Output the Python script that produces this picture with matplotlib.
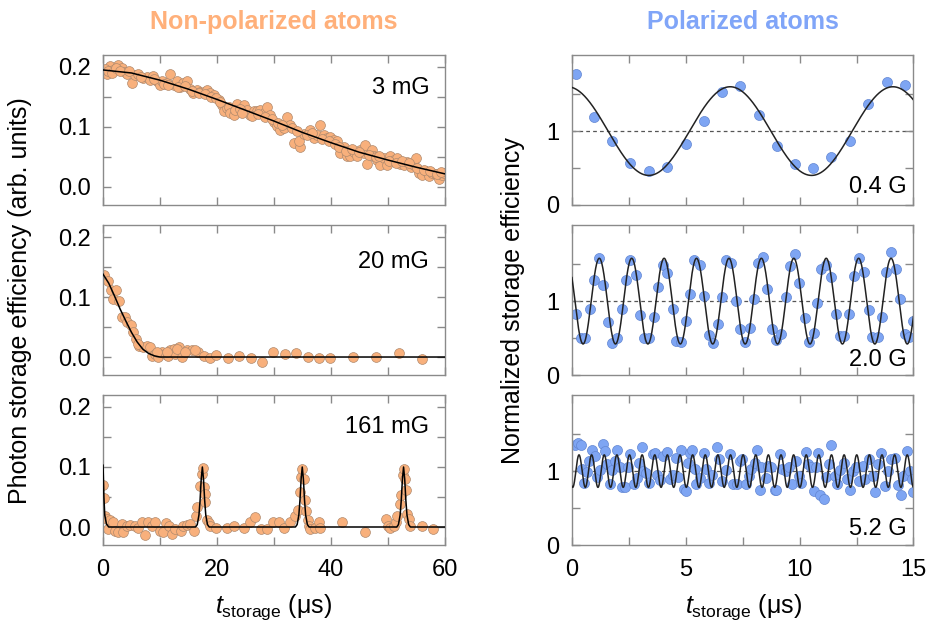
import numpy as np
import matplotlib
matplotlib.use("Agg")
import matplotlib.pyplot as plt
from matplotlib.ticker import MultipleLocator, FixedLocator

plt.rcParams["font.family"] = ["Liberation Sans", "DejaVu Sans"]
plt.rcParams["mathtext.fontset"] = "custom"
plt.rcParams["mathtext.rm"] = "Liberation Sans"
plt.rcParams["mathtext.it"] = "Liberation Sans:italic"

# ---------------------------------------------------------------------------
# Non-polarized atoms (left column): photon storage efficiency, arb. units
# ---------------------------------------------------------------------------
t_3mG = [0.0, 0.65, 1.23, 1.82, 2.70, 3.28, 3.87, 4.16, 5.04, 5.63, 6.22, 7.10,
         7.68, 8.27, 8.86, 9.44, 10.03, 10.32, 11.20, 11.79, 12.38, 12.96, 13.55,
         14.13, 14.72, 15.31, 15.89, 16.48, 17.07, 17.65, 18.24, 18.83, 19.41,
         20.29, 20.88, 21.17, 21.76, 22.05, 22.35, 22.93, 23.52, 24.69, 25.28,
         25.87, 26.45, 27.04, 27.62, 28.21, 28.80, 29.38, 29.97, 30.56, 31.14,
         31.73, 32.32, 32.90, 33.49, 34.66, 34.37, 35.25, 36.42, 37.01, 37.60,
         38.18, 38.77, 39.35, 39.94, 40.53, 41.11, 41.70, 42.29, 42.87, 43.46,
         44.05, 44.63, 45.22, 45.81, 46.10, 46.39, 47.27, 47.57, 48.15, 48.74,
         49.33, 49.91, 50.50, 51.09, 51.67, 52.26, 52.85, 53.43, 54.02, 54.60,
         54.90, 55.48, 56.07, 56.66, 57.24, 57.83, 58.42, 59.00, 59.59, 59.88,
         0.3, 0.9, 1.5, 2.2, 3.0, 4.5, 6.6, 9.0, 10.7, 11.5, 13.2, 14.4, 15.6,
         16.8, 18.0, 19.0, 19.8, 20.6, 23.2, 24.1, 24.4, 26.1, 27.3, 28.5, 29.7,
         30.8, 31.5, 33.2, 34.0, 35.8, 36.7, 38.5, 39.7, 40.8, 41.4, 42.6, 43.8,
         44.9, 46.7, 47.9, 48.4, 50.2, 51.4, 52.6, 53.7, 55.2, 56.4, 57.5, 58.7,
         59.3]
eff_3mG = [0.195, 0.188, 0.201, 0.195, 0.203, 0.198, 0.192, 0.189, 0.173, 0.187,
           0.189, 0.181, 0.184, 0.178, 0.185, 0.176, 0.170, 0.176, 0.173, 0.188,
           0.170, 0.176, 0.167, 0.173, 0.177, 0.164, 0.156, 0.162, 0.159, 0.159,
           0.162, 0.156, 0.153, 0.145, 0.137, 0.126, 0.131, 0.134, 0.123, 0.120,
           0.139, 0.137, 0.128, 0.120, 0.126, 0.126, 0.128, 0.123, 0.134, 0.120,
           0.109, 0.101, 0.095, 0.098, 0.117, 0.103, 0.073, 0.067, 0.076, 0.089,
           0.095, 0.081, 0.087, 0.103, 0.087, 0.081, 0.084, 0.078, 0.076, 0.056,
           0.067, 0.051, 0.051, 0.059, 0.051, 0.062, 0.056, 0.070, 0.039, 0.062,
           0.051, 0.045, 0.037, 0.048, 0.037, 0.051, 0.045, 0.048, 0.039, 0.037,
           0.042, 0.034, 0.037, 0.048, 0.023, 0.020, 0.026, 0.018, 0.023, 0.022,
           0.014, 0.020, 0.023,
           0.197, 0.193, 0.190, 0.198, 0.194, 0.193, 0.184, 0.180, 0.172, 0.170,
           0.166, 0.168, 0.160, 0.157, 0.155, 0.150, 0.148, 0.142, 0.128, 0.130,
           0.124, 0.118, 0.121, 0.116, 0.114, 0.107, 0.104, 0.098, 0.094, 0.086,
           0.090, 0.080, 0.076, 0.072, 0.066, 0.060, 0.063, 0.058, 0.054, 0.050,
           0.052, 0.044, 0.040, 0.044, 0.040, 0.031, 0.028, 0.026, 0.021, 0.025]
fit_t_3mG = [0, 5, 10, 15, 20, 25, 30, 35, 40, 45, 50, 55, 60]
fit_3mG = [0.195, 0.190, 0.178, 0.163, 0.146, 0.128, 0.110, 0.091, 0.074,
           0.058, 0.045, 0.033, 0.022]

t_20mG = [0.18, 0.94, 1.35, 2.29, 1.82, 2.87, 3.28, 3.87, 4.16, 4.87, 5.34, 5.81,
          6.39, 7.10, 7.68, 8.27, 8.56, 9.15, 9.74, 10.32, 10.91, 11.50, 11.79,
          12.38, 12.67, 13.26, 13.84, 14.72, 15.60, 16.77, 17.65, 18.71, 19.88,
          21.88, 23.93, 25.98, 27.92, 29.85, 32.02, 33.96, 35.95, 37.95, 39.94,
          43.93, 47.98, 51.96, 56.01, 6.2, 9.44, 11.2, 12.96, 14.4, 16.2]
eff_20mG = [0.136, 0.127, 0.111, 0.111, 0.097, 0.094, 0.066, 0.066, 0.058, 0.053,
            0.041, 0.030, 0.019, 0.016, 0.019, 0.016, 0.002, 0.005, 0.000, 0.008,
            0.005, 0.002, 0.011, 0.013, 0.005, 0.016, 0.000, 0.011, 0.011, 0.009,
            0.002, -0.002, 0.003, -0.002, 0.002, -0.002, -0.008, 0.009, 0.005,
            0.006, 0.000, -0.002, -0.002, 0.000, 0.000, 0.007, -0.004, 0.022,
            0.009, 0.009, 0.013, 0.008, 0.012]
fit_t_20mG = [0, 1, 2, 3, 4, 5, 6, 7, 8, 9, 10, 60]
fit_20mG = [0.138, 0.123, 0.102, 0.080, 0.060, 0.041, 0.025, 0.013, 0.006,
            0.002, 0.0, 0.0]

t_161mG = [0.06, 0.18, 0.35, 0.65, 1.23, 0.94, 1.70, 2.11, 2.70, 3.28, 3.58, 4.16,
           4.75, 5.63, 6.22, 6.80, 7.39, 7.98, 8.56, 9.15, 10.03, 10.50, 11.09,
           11.67, 12.08, 12.67, 13.67, 14.13, 14.72, 15.31, 16.01, 16.36, 16.48,
           17.07, 17.36, 17.54, 17.65, 17.95, 17.95, 18.24, 18.53, 18.83, 19.88,
           21.76, 22.93, 24.81, 25.75, 26.74, 27.74, 28.80, 29.85, 30.85, 31.73,
           32.90, 33.78, 34.19, 34.55, 34.78, 35.02, 35.25, 35.54, 35.72, 35.95,
           36.13, 36.42, 37.30, 37.89, 38.18, 42.00, 46.10, 49.80, 50.03, 50.50,
           51.10, 51.40, 51.67, 52.14, 52.43, 52.73, 52.85, 53.02, 53.26, 53.43,
           53.72, 54.00, 56.07, 58.00]
eff_161mG = [0.070, 0.049, 0.019, 0.014, 0.011, -0.003, 0.008, -0.006, -0.009,
             0.005, -0.008, 0.001, 0.003, 0.002, -0.001, 0.009, -0.013, 0.008,
             0.002, 0.009, -0.006, -0.009, 0.007, 0.002, -0.012, -0.003, -0.006,
             0.002, 0.003, 0.005, -0.006, 0.019, 0.033, 0.068, 0.088, 0.098,
             0.066, 0.055, 0.042, 0.011, 0.007, 0.002, -0.002, -0.002, 0.002,
             -0.002, 0.009, 0.016, -0.003, -0.003, 0.009, 0.009, -0.001, 0.008,
             0.019, 0.029, 0.059, 0.083, 0.096, 0.080, 0.045, 0.026, 0.011,
             0.002, -0.004, -0.001, 0.009, -0.001, 0.009, -0.009, 0.013, 0.002,
             -0.001, 0.002, 0.008, 0.019, 0.038, 0.053, 0.086, 0.097, 0.080,
             0.061, 0.022, 0.013, 0.002, 0.002, -0.004]
fit_t_161mG = [0.0, 0.15, 0.3, 0.6, 1.0,
               16.25, 16.55, 16.85, 17.05, 17.25, 17.45, 17.65, 17.85, 18.05, 18.35, 18.65,
               33.8, 34.1, 34.4, 34.6, 34.8, 35.0, 35.2, 35.4, 35.6, 35.9, 36.2,
               51.6, 51.9, 52.2, 52.4, 52.6, 52.8, 53.0, 53.2, 53.4, 53.7, 54.0,
               60.0]
fit_161mG = [0.103, 0.05, 0.02, 0.005, 0.0,
             0.0, 0.004, 0.02, 0.045, 0.08, 0.1, 0.08, 0.045, 0.02, 0.004, 0.0,
             0.0, 0.004, 0.02, 0.045, 0.08, 0.1, 0.08, 0.045, 0.02, 0.004, 0.0,
             0.0, 0.004, 0.02, 0.045, 0.08, 0.1, 0.08, 0.045, 0.02, 0.004, 0.0,
             0.0]

# ---------------------------------------------------------------------------
# Polarized atoms (right column): normalized storage efficiency
# ---------------------------------------------------------------------------
t_04G = [0.18, 0.96, 1.77, 2.57, 3.38, 4.18, 4.99, 5.79, 6.59, 7.40, 8.20, 8.99,
         9.80, 10.60, 11.40, 12.21, 13.01, 13.82, 14.62]
eff_04G = [1.77, 1.19, 0.87, 0.57, 0.46, 0.52, 0.82, 1.13, 1.53, 1.61, 1.22, 0.80,
           0.55, 0.50, 0.65, 0.86, 1.36, 1.66, 1.62]

t_20G = [0.18, 0.38, 0.57, 0.79, 0.96, 1.20, 1.37, 1.59, 1.78, 1.99, 2.18, 2.37,
         2.57, 2.81, 2.98, 3.16, 3.39, 3.60, 3.79, 3.98, 4.18, 4.42, 4.56, 4.81,
         5.00, 5.20, 5.38, 5.61, 5.79, 6.02, 6.20, 6.42, 6.61, 6.75, 7.00, 7.22,
         7.40, 7.62, 7.81, 8.01, 8.19, 8.39, 8.58, 8.79, 8.98, 9.20, 9.39, 9.59,
         9.80, 9.97, 10.22, 10.41, 10.61, 10.76, 10.96, 11.17, 11.40, 11.58,
         11.78, 11.97, 12.19, 12.41, 12.60, 12.81, 13.04, 13.19, 13.44, 13.63,
         13.80, 14.01, 14.24, 14.39, 14.61, 14.80, 14.97]
eff_20G = [0.82, 0.50, 0.50, 0.89, 1.29, 1.59, 1.22, 0.72, 0.44, 0.50, 0.90, 1.29,
           1.56, 1.35, 0.81, 0.50, 0.50, 0.78, 1.19, 1.49, 1.38, 0.90, 0.46, 0.45,
           0.73, 1.10, 1.55, 1.49, 1.07, 0.54, 0.44, 0.69, 1.05, 1.55, 1.52, 1.00,
           0.62, 0.45, 0.64, 1.03, 1.51, 1.60, 1.16, 0.62, 0.48, 0.55, 1.06, 1.48,
           1.64, 1.25, 0.77, 0.45, 0.57, 0.98, 1.44, 1.49, 1.32, 0.82, 0.53, 0.53,
           0.82, 1.34, 1.59, 1.40, 0.88, 0.51, 0.51, 0.78, 1.39, 1.66, 1.43, 1.03,
           0.55, 0.52, 0.73]

t_52G = [0.13, 0.28, 0.39, 0.42, 0.53, 0.64, 0.76, 0.89, 1.01, 1.11, 1.23, 1.35,
         1.45, 1.55, 1.67, 1.78, 1.89, 1.99, 2.11, 2.22, 2.32, 2.47, 2.57, 2.72,
         2.84, 2.95, 3.06, 3.13, 3.27, 3.39, 3.54, 3.64, 3.74, 3.86, 4.01, 4.18,
         4.30, 4.44, 4.59, 4.68, 4.81, 4.91, 5.00, 5.09, 5.20, 5.29, 5.39, 5.47,
         5.61, 5.79, 5.91, 6.02, 6.17, 6.35, 6.46, 6.61, 6.75, 6.93, 7.08, 7.25,
         7.37, 7.49, 7.63, 7.78, 7.88, 8.03, 8.13, 8.25, 8.32, 8.51, 8.61, 8.76,
         8.90, 8.98, 9.12, 9.24, 9.39, 9.53, 9.68, 9.85, 9.97, 10.07, 10.26,
         10.37, 10.51, 10.61, 10.73, 10.80, 10.91, 11.05, 11.17, 11.29, 11.39,
         11.54, 11.64, 11.78, 11.93, 12.08, 12.22, 12.34, 12.49, 12.63, 12.78,
         12.89, 13.04, 13.22, 13.33, 13.44, 13.58, 13.73, 13.87, 14.02, 14.17,
         14.31, 14.46, 14.56, 14.71, 14.85, 14.94, 14.97]
eff_52G = [1.36, 1.38, 1.35, 1.03, 0.84, 0.99, 1.14, 1.29, 1.21, 0.92, 1.02, 1.37,
           1.27, 1.10, 0.83, 1.02, 1.14, 1.29, 1.05, 0.79, 0.79, 1.05, 1.23, 0.83,
           0.90, 1.11, 1.32, 1.00, 0.98, 0.84, 1.23, 1.25, 0.95, 0.88, 1.20, 1.26,
           0.89, 0.95, 1.18, 0.92, 1.29, 0.76, 0.73, 1.11, 1.24, 1.29, 1.03, 0.83,
           0.90, 1.25, 1.03, 0.84, 0.95, 1.32, 1.16, 0.86, 1.02, 1.23, 0.82, 0.82,
           1.14, 1.16, 0.82, 0.94, 1.03, 1.11, 1.28, 0.75, 1.05, 0.91, 1.07, 1.05,
           0.75, 0.75, 1.23, 1.03, 1.00, 1.06, 0.82, 1.14, 0.93, 0.84, 1.26, 1.09,
           1.05, 0.73, 1.06, 1.25, 0.68, 0.62, 0.92, 1.09, 1.36, 0.93, 0.82, 1.02,
           1.11, 0.89, 0.75, 1.00, 1.06, 0.86, 1.07, 0.89, 1.16, 0.93, 0.72, 1.09,
           1.25, 0.80, 1.00, 1.16, 1.18, 0.81, 0.68, 0.93, 1.27, 1.00, 0.89, 0.72]

# fitted oscillation parameters (offset 1): amplitude, period (us), time of first max
fit_04G = (0.60, 7.15, 6.95)
fit_20G = (0.58, 1.424, 1.20)
fit_52G = (0.22, 0.5545, 0.31)

# ---------------------------------------------------------------------------
ORANGE = "#f8b07c"
ORANGE_EDGE = "#b08a6e"
BLUE = "#7ea5f3"
BLUE_EDGE = "#6286d2"
AXIS_GRAY = "#8a8a8a"

fig = plt.figure(figsize=(9.3, 6.24), dpi=100)
fig.patch.set_facecolor("white")

rows_bottom = [0.6715, 0.399, 0.1266]
height = 0.2404
left_x, right_x, width = 0.1108, 0.615, 0.3672


def style_axes(ax):
    for sp in ax.spines.values():
        sp.set_color(AXIS_GRAY)
        sp.set_linewidth(1.0)
    ax.tick_params(which="both", direction="in", top=True, right=True,
                   length=6, width=1.0, color=AXIS_GRAY, labelsize=17)
    ax.tick_params(axis="y", pad=9)
    ax.tick_params(axis="x", pad=10)


left_sets = [
    (t_3mG, eff_3mG, fit_t_3mG, fit_3mG, "3 mG", 0.78),
    (t_20mG, eff_20mG, fit_t_20mG, fit_20mG, "20 mG", 0.755),
    (t_161mG, eff_161mG, fit_t_161mG, fit_161mG, "161 mG", 0.785),
]
for i, (tt, ee, ft, fe, lab, ly) in enumerate(left_sets):
    ax = fig.add_axes([left_x, rows_bottom[i], width, height])
    style_axes(ax)
    ax.scatter(tt, ee, s=50, color=ORANGE, edgecolors=ORANGE_EDGE,
               linewidths=0.5, zorder=2)
    ax.plot(ft, fe, color="black", lw=1.1, zorder=3)
    ax.set_xlim(0, 60)
    ax.set_ylim(-0.03, 0.22)
    ax.xaxis.set_major_locator(MultipleLocator(20))
    ax.xaxis.set_minor_locator(MultipleLocator(10))
    ax.yaxis.set_major_locator(FixedLocator([0.0, 0.1, 0.2]))
    ax.yaxis.set_minor_locator(FixedLocator([0.05, 0.15]))
    ax.set_yticklabels(["0.0", "0.1", "0.2"])
    if i < 2:
        ax.set_xticklabels([])
    ax.text(0.955, ly, lab, transform=ax.transAxes, ha="right", va="center",
            fontsize=17)

right_sets = [
    (t_04G, eff_04G, fit_04G, "0.4 G", 0.12),
    (t_20G, eff_20G, fit_20G, "2.0 G", 0.10),
    (t_52G, eff_52G, fit_52G, "5.2 G", 0.107),
]
t_model = np.linspace(0, 15, 3000)
for i, (tt, ee, (amp, per, t0), lab, ly) in enumerate(right_sets):
    ax = fig.add_axes([right_x, rows_bottom[i], width, height])
    style_axes(ax)
    ax.axhline(1.0, color="#555555", lw=0.9, dashes=(3, 2.5), zorder=1)
    ax.scatter(tt, ee, s=52, color=BLUE, edgecolors=BLUE_EDGE,
               linewidths=0.5, zorder=2)
    ax.plot(t_model, 1 + amp * np.cos(2 * np.pi * (t_model - t0) / per),
            color="#222222", lw=1.1, zorder=3)
    ax.set_xlim(0, 15)
    ax.set_ylim(0, 2.03)
    ax.xaxis.set_major_locator(MultipleLocator(5))
    ax.xaxis.set_minor_locator(MultipleLocator(2.5))
    ax.yaxis.set_major_locator(FixedLocator([0, 1]))
    ax.yaxis.set_minor_locator(FixedLocator([0.5, 1.5]))
    ax.set_yticklabels(["0", "1"])
    if i < 2:
        ax.set_xticklabels([])
    ax.text(0.98, ly, lab, transform=ax.transAxes, ha="right", va="center",
            fontsize=17)

fig.text(0.294, 0.965, "Non-polarized atoms", ha="center", va="center",
         fontsize=18, fontweight="bold", color="#ffb07a")
fig.text(0.799, 0.965, "Polarized atoms", ha="center", va="center",
         fontsize=18, fontweight="bold", color="#80a5f8")

fig.text(0.022, 0.519, "Photon storage efficiency (arb. units)", rotation=90,
         ha="center", va="center", fontsize=18)
fig.text(0.552, 0.518, "Normalized storage efficiency", rotation=90,
         ha="center", va="center", fontsize=18)

xlab = r"$t_{\mathrm{storage}}$ (μs)"
fig.text(0.294, 0.027, xlab, ha="center", va="center", fontsize=18)
fig.text(0.799, 0.027, xlab, ha="center", va="center", fontsize=18)

fig.savefig("out.png", dpi=100, facecolor="white")
